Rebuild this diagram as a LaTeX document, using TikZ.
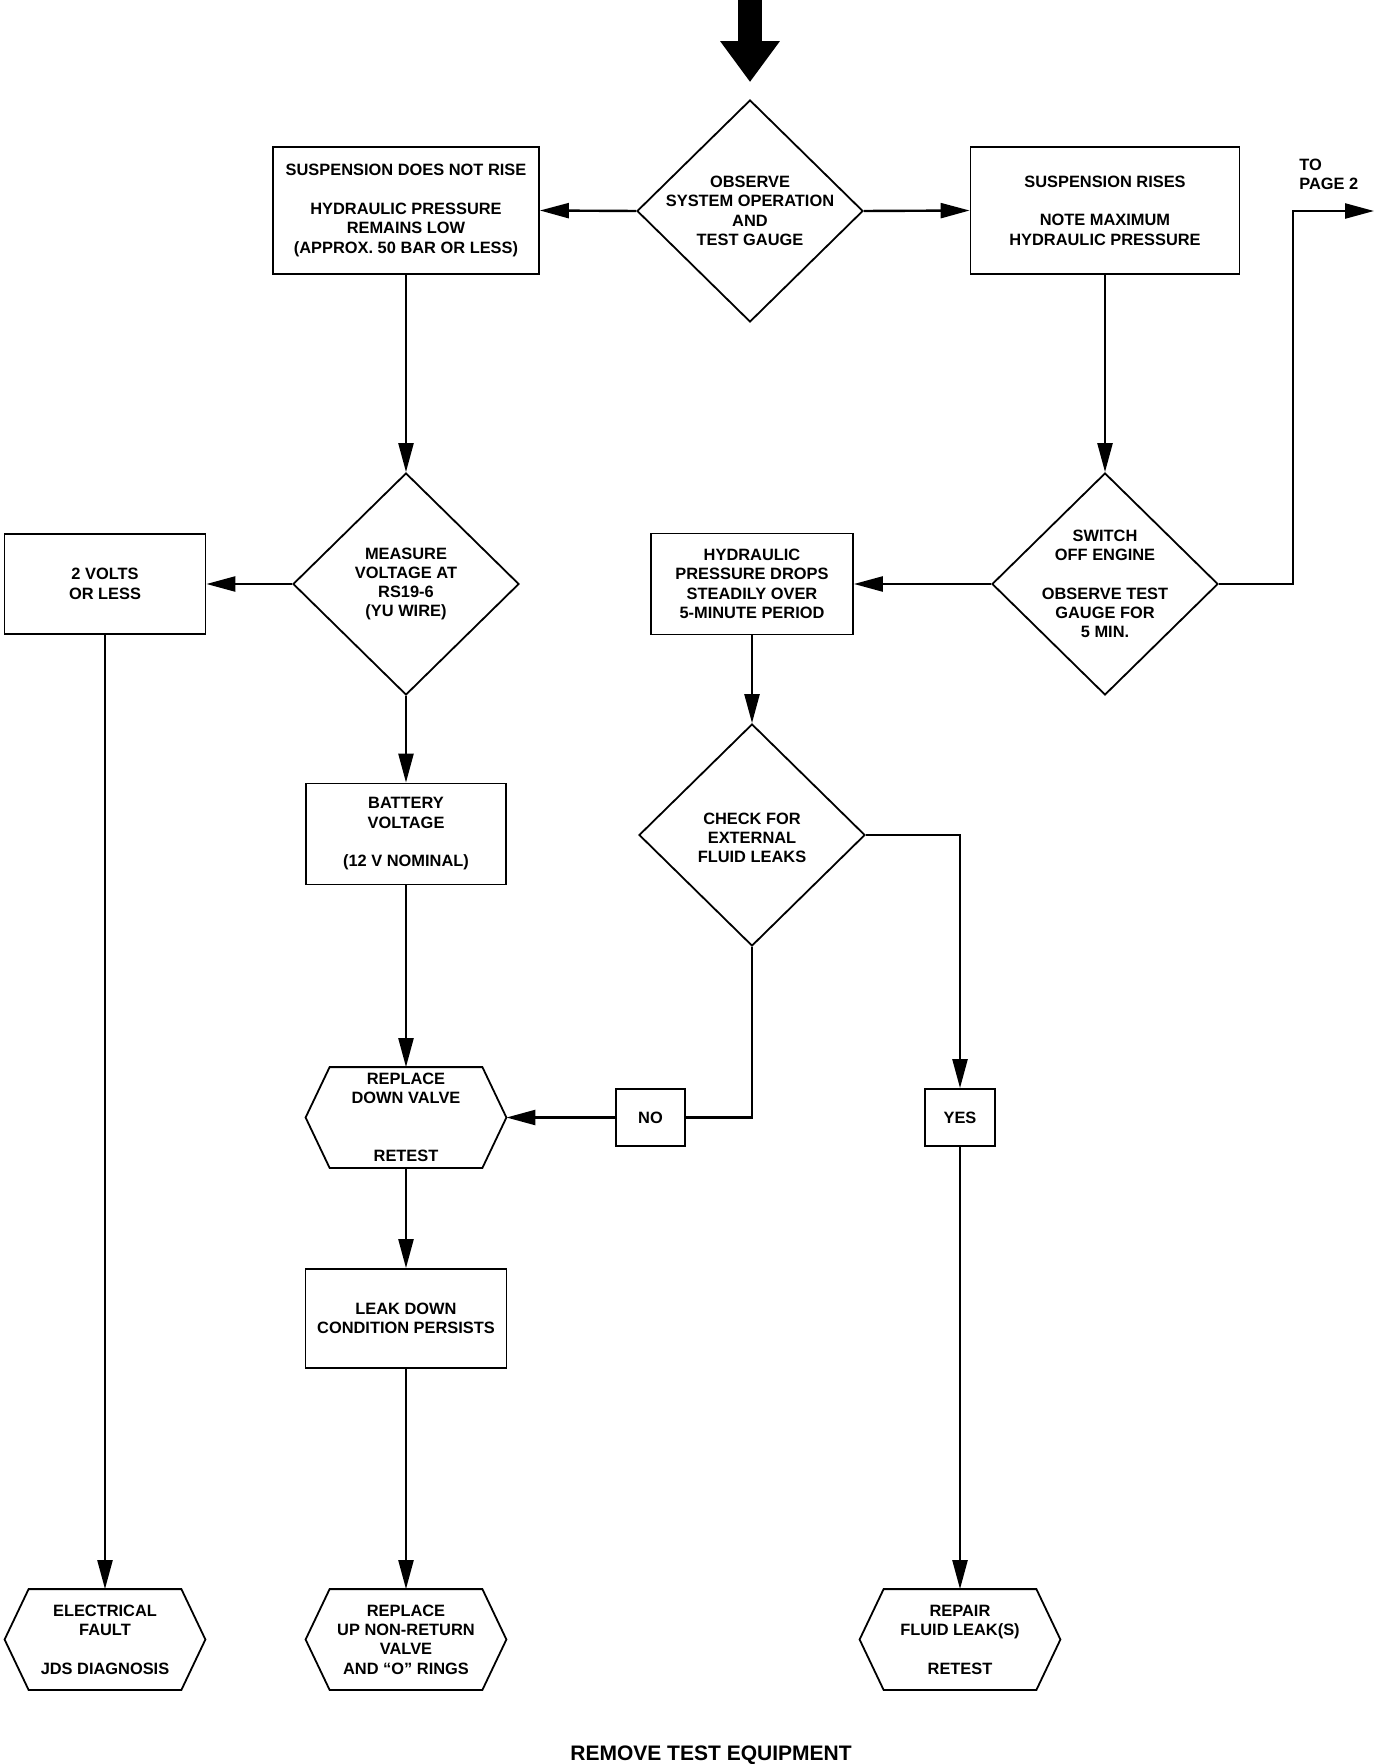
\documentclass[tikz,border=0pt]{standalone}
\usepackage{fontspec}
\setmainfont{Liberation Sans}
\usetikzlibrary{arrows.meta,shapes.geometric}

% six-sided frame round a node, points left and right
\newcommand{\hexframe}[1]{%
  \draw[boxline] ([xshift=12pt]#1.north west) -- ([xshift=-12pt]#1.north east) -- (#1.east)
    -- ([xshift=-12pt]#1.south east) -- ([xshift=12pt]#1.south west) -- (#1.west) -- cycle;}

\begin{document}
\begin{tikzpicture}[x=0.5pt,y=-0.5pt,
    font=\fontsize{8.2}{9.65}\selectfont\bfseries,
    boxline/.style={line width=0.9pt},
    box/.style={draw,boxline,align=center,inner sep=0pt},
    ask/.style={draw,boxline,diamond,minimum width=113pt,minimum height=111pt,inner sep=0pt},
    hexbox/.style={align=center,inner sep=0pt,minimum width=100pt,minimum height=50pt},
    txt/.style={align=center,inner sep=0pt},
    flow/.style={line width=1.2pt,-{Triangle[length=14.5pt,width=7.5pt]}},
    wire/.style={line width=1.2pt}]
  \useasboundingbox (0,0) rectangle (1392,1764);
 %   \coordinate (mid) at (696,882);

    \node[box,minimum width=133pt,minimum height=63.5pt] (norise) at (406,210.5) {SUSPENSION DOES NOT RISE\\[9.65pt]HYDRAULIC PRESSURE\\REMAINS LOW\\(APPROX. 50 BAR OR LESS)};
    \node[ask] (obs) at (750,211) {};
    \node[txt] (obs-t) at (obs) {OBSERVE\\SYSTEM OPERATION\\AND\\TEST GAUGE};
    \node[box,minimum width=134.5pt,minimum height=63.5pt] (rises) at (1105,210.5) {SUSPENSION RISES\\[9.65pt]NOTE MAXIMUM\\HYDRAULIC PRESSURE};
    \node[txt,anchor=west,align=left] (page2) at (1299,174.5) {TO\\PAGE 2};

    \node[box,minimum width=100.5pt,minimum height=50pt] (volts) at (105,584) {2 VOLTS\\OR LESS};
    \node[ask] (measure) at (406,584) {};
    \node[txt] (measure-t) at (measure) {MEASURE\\VOLTAGE AT\\RS19-6\\(YU WIRE)};
    \node[box,minimum width=101pt,minimum height=50.5pt] (drops) at (752,584) {HYDRAULIC\\PRESSURE DROPS\\STEADILY OVER\\5-MINUTE PERIOD};
    \node[ask] (switch) at (1105,584) {};
    \node[txt] (switch-t) at (switch) {SWITCH\\OFF ENGINE\\[9.65pt]OBSERVE TEST\\GAUGE FOR\\5 MIN.};

    \node[box,minimum width=100pt,minimum height=50.5pt] (battery) at (406,834) {BATTERY\\VOLTAGE\\[9.65pt](12 V NOMINAL)};
    \node[ask] (check) at (752,835) {};
    \node[txt] (check-t) at ([yshift=-1.5pt]check) {CHECK FOR\\EXTERNAL\\FLUID LEAKS};

    \node[hexbox] (downvalve) at (406,1117.5) {REPLACE\\DOWN VALVE\\[19.3pt]RETEST};
    \hexframe{downvalve}
    \node[box,minimum width=34.5pt,minimum height=28.5pt] (no) at (650.5,1117.5) {NO};
    \node[box,minimum width=35pt,minimum height=28.5pt] (yes) at (960,1117.5) {YES};

    \node[box,minimum width=100.5pt,minimum height=49.5pt] (leak) at (406,1318.5) {LEAK DOWN\\CONDITION PERSISTS};

    \node[hexbox] (electrical) at (105,1639.5) {ELECTRICAL\\FAULT\\[9.65pt]JDS DIAGNOSIS};
    \hexframe{electrical}
    \node[hexbox] (upvalve) at (406,1639.5) {REPLACE\\UP NON-RETURN\\VALVE\\AND “O” RINGS};
    \hexframe{upvalve}
    \node[hexbox] (repair) at (960,1639.5) {REPAIR\\FLUID LEAK(S)\\[9.65pt]RETEST};
    \hexframe{repair}

    \node[txt,font=\fontsize{10.5}{12}\selectfont\bfseries] (remove) at (711,1755) {REMOVE TEST EQUIPMENT};

    % connectors
    \coordinate (start) at (750,0);
    \coordinate (page2-end) at (1374,211);
    \draw[line width=12pt,-{Triangle[length=20.5pt,width=28.5pt]}] (start) -- ([yshift=8.5pt]obs.north);
    \draw[flow] (obs.west) -- (norise.east);
    \draw[flow] (obs.east) -- (rises.west);
    \draw[flow] (norise.south) -- (measure.north);
    \draw[flow] (rises.south) -- (switch.north);
    \draw[flow] (switch.east) -- ++(74,0) |- (page2-end);
    \draw[flow] (measure.west) -- (volts.east);
    \draw[flow] (measure.south) -- (battery.north);
    \draw[flow] (switch.west) -- (drops.east);
    \draw[flow] (drops.south) -- (check.north);
    \draw[flow] (check.east) -| (yes.north);
    \draw[wire] (check.south) |- (no.east);
    \draw[flow] (no.west) -- (downvalve.east);
    \draw[flow] (battery.south) -- (downvalve.north);
    \draw[flow] (downvalve.south) -- (leak.north);
    \draw[flow] (leak.south) -- (upvalve.north);
    \draw[flow] (volts.south) -- (electrical.north);
    \draw[flow] (yes.south) -- (repair.north);

\end{tikzpicture}
\end{document}
